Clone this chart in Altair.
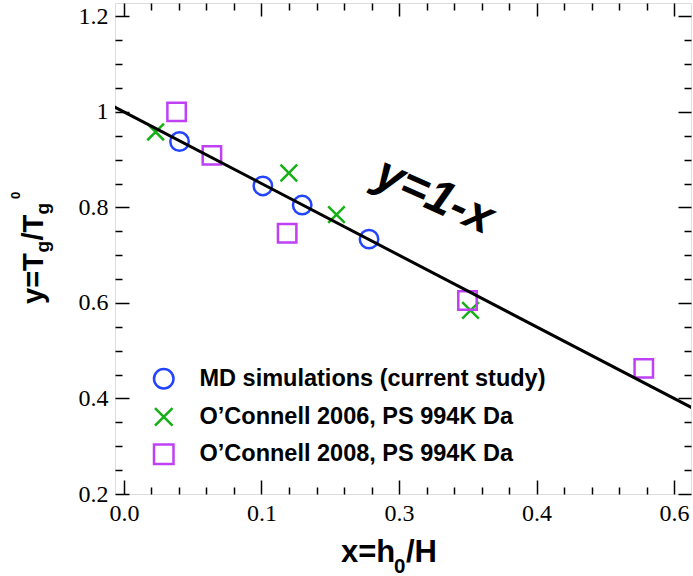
import altair as alt
import pandas as pd

# ---------------- data ----------------
series_names = [
    "MD simulations (current study)",
    "O\u2019Connell 2006, PS 994K Da",
    "O\u2019Connell 2008, PS 994K Da",
]
series_colors = ["#2244ff", "#14b014", "#bf40f5"]
series_shapes = ["circle", "M-0.9,-0.9L0.9,0.9M-0.9,0.9L0.9,-0.9", "square"]

md_x = [0.0606, 0.1515, 0.1944, 0.2673]
md_y = [0.938, 0.845, 0.805, 0.7336]
oc06_x = [0.0345, 0.1798, 0.2318, 0.378]
oc06_y = [0.958, 0.872, 0.785, 0.5845]
oc08_x = [0.0574, 0.0959, 0.178, 0.3747, 0.567]
oc08_y = [1.0, 0.909, 0.7458, 0.605, 0.463]

line_x = [-0.02, 0.63]  # y = 1 - x

x_major = [0.0, 0.15, 0.3, 0.45, 0.6]
x_major_labels = ["0.0", "0.1", "0.3", "0.4", "0.6"]
x_minor = [0.03, 0.06, 0.09, 0.12, 0.18, 0.21, 0.24, 0.27,
           0.33, 0.36, 0.39, 0.42, 0.48, 0.51, 0.54, 0.57]
y_major = [0.2, 0.4, 0.6, 0.8, 1.0, 1.2]
y_major_labels = ["0.2", "0.4", "0.6", "0.8", "1", "1.2"]
y_minor = [0.25, 0.3, 0.35, 0.45, 0.5, 0.55, 0.65, 0.7, 0.75,
           0.85, 0.9, 0.95, 1.05, 1.1, 1.15]

X_DOMAIN = [-0.0098, 0.6185]
Y_DOMAIN = [0.2, 1.228]

anno_text = "y=1-x"
anno_x = [0.3385]
anno_y = [0.8225]

x_title_parts = ["x=h", "0", "/H"]
y_title_parts = ["y=T", "g", "/T", "g", "0"]

# ---------------- layout ----------------
W, H = 576, 491
PAD = {"left": 115, "top": 3, "right": 2, "bottom": 82}
SANS = "Liberation Sans, Arial, Helvetica, sans-serif"
SERIF = "Liberation Serif, Times New Roman, Times, serif"
MAJ, MIN = 14, 7

pts = pd.DataFrame({
    "x": md_x + oc06_x + oc08_x,
    "y": md_y + oc06_y + oc08_y,
    "series": [series_names[0]] * len(md_x)
    + [series_names[1]] * len(oc06_x)
    + [series_names[2]] * len(oc08_x),
})
line_df = pd.DataFrame({"x": line_x})


def label_expr(vals, labels):
    expr = "''"
    for v, l in zip(reversed(vals), reversed(labels)):
        expr = f"abs(datum.value - {v}) < 1e-6 ? '{l}' : ({expr})"
    return expr


def tick_axis(orient, values, size, labels=None):
    kw = dict(orient=orient, values=values, tickSize=size, offset=-size,
              domain=False, grid=False, ticks=True, title=None,
              tickColor="black", tickWidth=1.5)
    if labels is None:
        kw["labels"] = False
    else:
        kw.update(labels=True, labelExpr=label_expr(values, labels),
                  labelFont=SERIF, labelFontSize=24, labelColor="black",
                  labelPadding=7, labelFlush=False, labelOverlap=False,
                  labelBound=False)
    return alt.Axis(**kw)


x_scale = alt.Scale(domain=X_DOMAIN, nice=False, zero=False)
y_scale = alt.Scale(domain=Y_DOMAIN, nice=False, zero=False)

legend = alt.Legend(
    orient="none", legendX=37, legendY=364, title=None,
    symbolSize=380, symbolStrokeWidth=2.5, symbolFillColor="transparent",
    labelFont=SANS, labelFontWeight="bold", labelFontSize=23.5, labelLimit=600,
    labelColor="black", rowPadding=8.2, labelOffset=24, padding=0,
)
color = alt.Color("series:N", scale=alt.Scale(domain=series_names, range=series_colors), legend=legend)
shape = alt.Shape("series:N", scale=alt.Scale(domain=series_names, range=series_shapes), legend=legend)

axis_sets = [
    (tick_axis("bottom", x_major, MAJ, x_major_labels), tick_axis("left", y_major, MAJ, y_major_labels)),
    (tick_axis("bottom", x_minor, MIN), tick_axis("left", y_minor, MIN)),
    (tick_axis("top", x_major, 13), tick_axis("right", y_major, 13)),
    (tick_axis("top", x_minor, MIN), tick_axis("right", y_minor, MIN)),
]

layers = []
for i, name in enumerate(series_names):
    ax, ay = axis_sets[i + 1]
    layers.append(
        alt.Chart(pts).transform_filter(alt.datum.series == name)
        .mark_point(filled=False, strokeWidth=2.5, size=340, opacity=1)
        .encode(
            x=alt.X("x:Q", scale=x_scale, axis=ax),
            y=alt.Y("y:Q", scale=y_scale, axis=ay),
            color=color, shape=shape,
        )
    )

ax0, ay0 = axis_sets[0]
line = (
    alt.Chart(line_df).transform_calculate(y="1 - datum.x")
    .mark_line(color="black", strokeWidth=3, clip=True)
    .encode(x=alt.X("x:Q", scale=x_scale, axis=ax0),
            y=alt.Y("y:Q", scale=y_scale, axis=ay0))
)
layers.append(line)

anno = (
    alt.Chart(pd.DataFrame({"x": anno_x, "y": anno_y, "t": [anno_text]}))
    .mark_text(font=SANS, fontWeight="bold", fontStyle="italic", fontSize=48,
               angle=24, align="center", baseline="middle", color="black")
    .encode(x=alt.X("x:Q", scale=x_scale, axis=None),
            y=alt.Y("y:Q", scale=y_scale, axis=None), text="t:N")
)
layers.append(anno)

one = alt.Data(values=[{}])


def piece(text, x, y, size, angle=0):
    kw = dict(text=text, font=SANS, fontWeight="bold", fontSize=size,
              align="left", baseline="alphabetic", color="black")
    if angle:
        kw["angle"] = angle
    return alt.Chart(one).mark_text(**kw).encode(x=alt.value(x), y=alt.value(y))


# x title: x=h_0/H
layers.append(piece(x_title_parts[0], 226, 558.7, 31))
layers.append(piece(x_title_parts[1], 279, 569.5, 20.5))
layers.append(piece(x_title_parts[2], 291, 558.7, 31))
# y title: y=T_g/T_g^0 (rotated)
layers.append(piece(y_title_parts[0], -72.3, 301, 29, 270))
layers.append(piece(y_title_parts[1], -66, 249.5, 19, 270))
layers.append(piece(y_title_parts[2], -72.3, 237.5, 29, 270))
layers.append(piece(y_title_parts[3], -66, 211.5, 19, 270))
layers.append(piece(y_title_parts[4], -95, 196, 13, 270))

chart = (
    alt.layer(*layers)
    .resolve_axis(x="independent", y="independent")
    .properties(width=W, height=H, padding=PAD, autosize=alt.AutoSizeParams(type="none"))
    .configure_view(stroke="black", strokeWidth=2)
    .configure_axis(labelFont=SERIF, labelFontSize=24, labelColor="black")
    .configure(background="white")
)

chart.save("out.html", embed_options={"renderer": "svg", "actions": False})
